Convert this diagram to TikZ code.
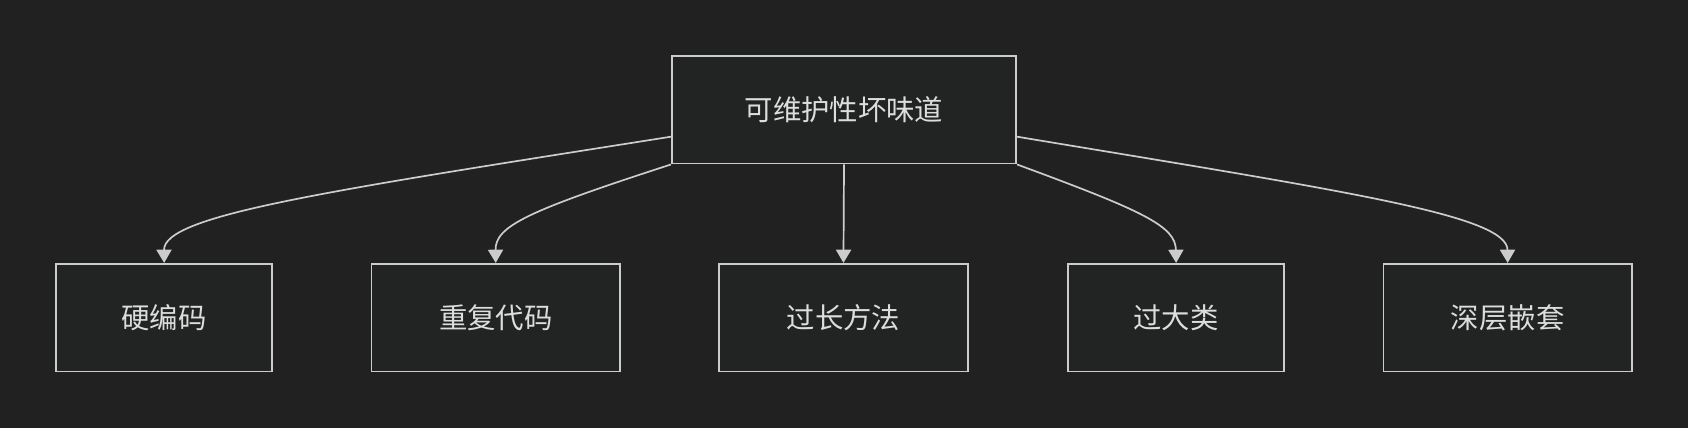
\documentclass[tikz,border=0pt]{standalone}
\usepackage{fontspec}
\setmainfont{Noto Sans CJK SC}
\usetikzlibrary{arrows.meta}
\definecolor{bgc}{HTML}{212121}
\definecolor{boxc}{HTML}{222424}
\definecolor{linec}{HTML}{CCCCCC}
\definecolor{textc}{HTML}{DDDDDD}
\tikzset{smell/.style={draw=linec, fill=boxc, line width=0.9pt, text=textc,
    font=\fontsize{15}{18}\selectfont, minimum height=2cm, inner sep=0pt},
  link/.style={draw=linec, line width=0.9pt, -{Triangle[length=7pt,width=8pt]}}}
\begin{document}
\begin{tikzpicture}[x=0.02cm,y=-0.02cm]
  \fill[bgc] (0,0) rectangle (1568,398);
  \useasboundingbox (0,0) rectangle (1568,398);

  \node[smell, minimum width=6.4cm] (top) at (784,102) {可维护性坏味道};
  \node[smell, minimum width=4.02cm] (hard) at (152.5,295) {硬编码};
  \node[smell, minimum width=4.62cm] (dup) at (460.5,295) {重复代码};
  \node[smell, minimum width=4.62cm] (long) at (783.5,295) {过长方法};
  \node[smell, minimum width=4.02cm] (big) at (1092.5,295) {过大类};
  \node[smell, minimum width=4.62cm] (deep) at (1400.5,295) {深层嵌套};

  \draw[link] ([yshift=-0.5cm]top.west) .. controls (300,178) and (152,200) .. (hard.north);
  \draw[link] (top.south west) .. controls (490,196) and (460,210) .. (dup.north);
  \draw[link] (top.south) -- (long.north);
  \draw[link] (top.south east) .. controls (1062,196) and (1092,210) .. (big.north);
  \draw[link] ([yshift=-0.5cm]top.east) .. controls (1252,178) and (1400,200) .. (deep.north);
\end{tikzpicture}
\end{document}
